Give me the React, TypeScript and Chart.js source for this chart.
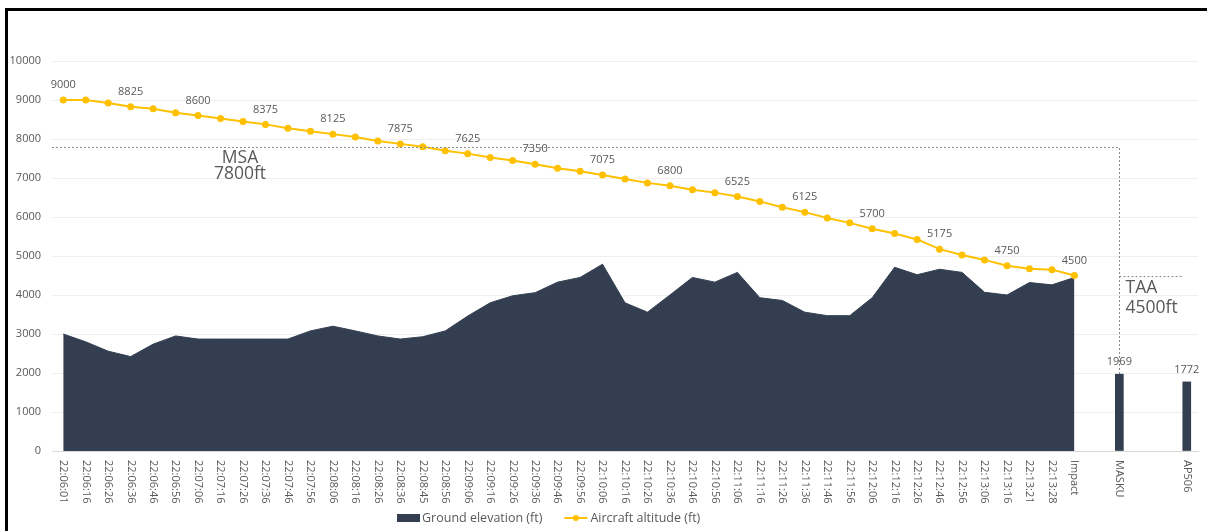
import React, { useEffect, useRef } from "react";
import { Chart, registerables } from "chart.js";

Chart.register(...registerables);

// ---------------- DATA ----------------
const timeLabels = [
  "22:06:01", "22:06:16", "22:06:26", "22:06:36", "22:06:46", "22:06:56",
  "22:07:06", "22:07:16", "22:07:26", "22:07:36", "22:07:46", "22:07:56",
  "22:08:06", "22:08:16", "22:08:26", "22:08:36", "22:08:45", "22:08:56",
  "22:09:06", "22:09:16", "22:09:26", "22:09:36", "22:09:46", "22:09:56",
  "22:10:06", "22:10:16", "22:10:26", "22:10:36", "22:10:46", "22:10:56",
  "22:11:06", "22:11:16", "22:11:26", "22:11:36", "22:11:46", "22:11:56",
  "22:12:06", "22:12:16", "22:12:26", "22:12:46", "22:12:56", "22:13:06",
  "22:13:16", "22:13:21", "22:13:28", "Impact",
];
const waypointLabels = ["", "MASKU", "", "", "AP506"];

const groundElevation = [
  3000, 2800, 2560, 2420, 2740, 2950, 2870, 2870, 2870, 2870, 2870, 3080,
  3200, 3080, 2950, 2870, 2930, 3080, 3460, 3800, 3980, 4060, 4330, 4450,
  4790, 3800, 3560, 4000, 4450, 4330, 4580, 3930, 3860, 3560, 3470, 3470,
  3930, 4710, 4520, 4660, 4580, 4070, 4000, 4320, 4260, 4450,
];
const aircraftAltitude = [
  9000, 9000, 8925, 8825, 8775, 8675, 8600, 8525, 8450, 8375, 8275, 8200,
  8125, 8050, 7950, 7875, 7800, 7700, 7625, 7525, 7450, 7350, 7250, 7175,
  7075, 6975, 6875, 6800, 6700, 6625, 6525, 6400, 6250, 6125, 5975, 5850,
  5700, 5575, 5425, 5175, 5025, 4900, 4750, 4675, 4650, 4500,
];
const waypointElevation = [null, 1969, null, null, 1772];

const yTicks = [0, 1000, 2000, 3000, 4000, 5000, 6000, 7000, 8000, 9000, 10000];
const MSA = 7800;
const TAA = 4500;
const altitudeLabelEvery = 3;

// ---------------- derived ----------------
const categories = [...timeLabels, ...waypointLabels];
const pad = (arr: (number | null)[], n: number) => [...arr, ...new Array(n).fill(null)];
const groundSeries = pad(groundElevation, waypointLabels.length);
const altitudeSeries = pad(aircraftAltitude, waypointLabels.length);
const waypointSeries = [...new Array(timeLabels.length).fill(null), ...waypointElevation];

const GROUND = "#333F50";
const GOLD = "#FFC000";
const TEXT = "#595959";
const FONT = "'Open Sans', sans-serif";

const overlayPlugin = {
  id: "overlay",
  afterDraw(chart: any) {
    const { ctx, chartArea } = chart;
    const x = chart.scales.x;
    const y = chart.scales.y;
    ctx.save();

    // x labels, rotated clockwise
    ctx.fillStyle = TEXT;
    ctx.font = `11px ${FONT}`;
    ctx.textAlign = "left";
    ctx.textBaseline = "middle";
    categories.forEach((lab, i) => {
      if (!lab) return;
      ctx.save();
      ctx.translate(x.getPixelForValue(i), chartArea.bottom + 9);
      ctx.rotate(Math.PI / 2);
      ctx.fillText(lab, 0, 0);
      ctx.restore();
    });

    // altitude data labels
    ctx.textAlign = "center";
    ctx.textBaseline = "middle";
    aircraftAltitude.forEach((v, i) => {
      if (i % altitudeLabelEvery !== 0) return;
      ctx.fillText(String(v), x.getPixelForValue(i), y.getPixelForValue(v) - 15);
    });
    // waypoint data labels
    waypointSeries.forEach((v, i) => {
      if (v == null) return;
      ctx.fillText(String(v), x.getPixelForValue(i), y.getPixelForValue(v) - 12);
    });

    // dotted reference lines
    const iM = categories.indexOf("MASKU");
    const iA = categories.indexOf("AP506");
    const xm = Math.round(x.getPixelForValue(iM)) + 0.5;
    const xa = x.getPixelForValue(iA);
    const yMsa = Math.round(y.getPixelForValue(MSA)) + 0.5;
    const yTaa = Math.round(y.getPixelForValue(TAA)) + 0.5;
    const yBar = y.getPixelForValue(waypointSeries[iM] as number);
    ctx.strokeStyle = "#8c8c8c";
    ctx.lineWidth = 1;
    ctx.setLineDash([2, 2]);
    ctx.beginPath();
    ctx.moveTo(chartArea.left, yMsa);
    ctx.lineTo(xm, yMsa);
    ctx.lineTo(xm, yBar);
    ctx.stroke();
    ctx.beginPath();
    ctx.moveTo(xm, yTaa);
    ctx.lineTo(xa - 4, yTaa);
    ctx.stroke();
    ctx.setLineDash([]);

    // annotation texts
    ctx.font = `17.5px ${FONT}`;
    ctx.fillStyle = TEXT;
    ctx.textAlign = "center";
    ctx.fillText("MSA", 240, yMsa + 11);
    ctx.fillText(`${MSA}ft`, 240, yMsa + 27);
    ctx.textAlign = "left";
    ctx.fillText("TAA", xm + 6, yTaa + 12);
    ctx.fillText(`${TAA}ft`, xm + 6, yTaa + 32);

    // legend
    const ly = 518;
    const lx = 397;
    ctx.font = `12.5px ${FONT}`;
    ctx.textBaseline = "middle";
    ctx.fillStyle = GROUND;
    ctx.fillRect(lx, ly - 4, 23, 8);
    ctx.fillStyle = TEXT;
    const t1 = chart.data.datasets[1].label;
    ctx.fillText(t1, lx + 25, ly);
    const l2 = lx + 25 + ctx.measureText(t1).width + 22;
    ctx.strokeStyle = GOLD;
    ctx.lineWidth = 2;
    ctx.beginPath();
    ctx.moveTo(l2, ly);
    ctx.lineTo(l2 + 23, ly);
    ctx.stroke();
    ctx.fillStyle = GOLD;
    ctx.beginPath();
    ctx.arc(l2 + 11.5, ly, 3, 0, Math.PI * 2);
    ctx.fill();
    ctx.fillStyle = TEXT;
    ctx.fillText(chart.data.datasets[0].label, l2 + 26, ly);

    ctx.restore();
  },
};

export default function App() {
  const ref = useRef<HTMLCanvasElement>(null);
  useEffect(() => {
    const chart = new Chart(ref.current as HTMLCanvasElement, {
      type: "line",
      data: {
        labels: categories,
        datasets: [
          {
            type: "line",
            label: "Aircraft altitude (ft)",
            data: altitudeSeries,
            borderColor: GOLD,
            backgroundColor: GOLD,
            borderWidth: 2,
            pointRadius: 3.5,
            pointBorderWidth: 0,
            pointBackgroundColor: GOLD,
            tension: 0,
            fill: false,
            order: 0,
          },
          {
            type: "line",
            label: "Ground elevation (ft)",
            data: groundSeries,
            borderColor: GROUND,
            backgroundColor: GROUND,
            borderWidth: 1,
            pointRadius: 0,
            tension: 0,
            fill: "origin",
            order: 2,
          },
          {
            type: "bar",
            label: "Waypoint elevation (ft)",
            data: waypointSeries,
            backgroundColor: GROUND,
            barThickness: 8,
            order: 1,
          },
        ] as any,
      },
      options: {
        responsive: false,
        animation: false,
        devicePixelRatio: 1,
        layout: { padding: { top: 61, right: 9, left: 0, bottom: 0 } },
        plugins: { legend: { display: false }, tooltip: { enabled: false } },
        scales: {
          x: {
            type: "category",
            offset: true,
            grid: { display: false, drawTicks: false },
            border: { display: true, color: "#d9d9d9", width: 1 },
            ticks: { display: false },
            afterFit: (s: any) => {
              s.height = 80;
            },
          },
          y: {
            min: yTicks[0],
            max: yTicks[yTicks.length - 1],
            afterBuildTicks: (s: any) => {
              s.ticks = yTicks.map((v) => ({ value: v }));
            },
            ticks: {
              color: TEXT,
              font: { family: "'Open Sans', sans-serif", size: 11 },
              padding: 11,
              callback: (v: any) => String(v),
            },
            grid: { color: "#efefef", drawTicks: false },
            border: { display: false },
            afterFit: (s: any) => {
              s.width = 52;
            },
          },
        },
      } as any,
      plugins: [overlayPlugin],
    });
    return () => chart.destroy();
  }, []);

  return (
    <div
      style={{
        position: "fixed",
        left: 0,
        top: 0,
        width: 1207,
        height: 531,
        background: "#fff",
        overflow: "hidden",
      }}
    >
      <canvas ref={ref} width={1207} height={531} style={{ display: "block" }} />
      <div
        style={{
          position: "absolute",
          left: 5,
          top: 8,
          width: 1400,
          height: 700,
          borderTop: "3px solid #000",
          borderLeft: "3px solid #000",
          pointerEvents: "none",
        }}
      />
    </div>
  );
}
